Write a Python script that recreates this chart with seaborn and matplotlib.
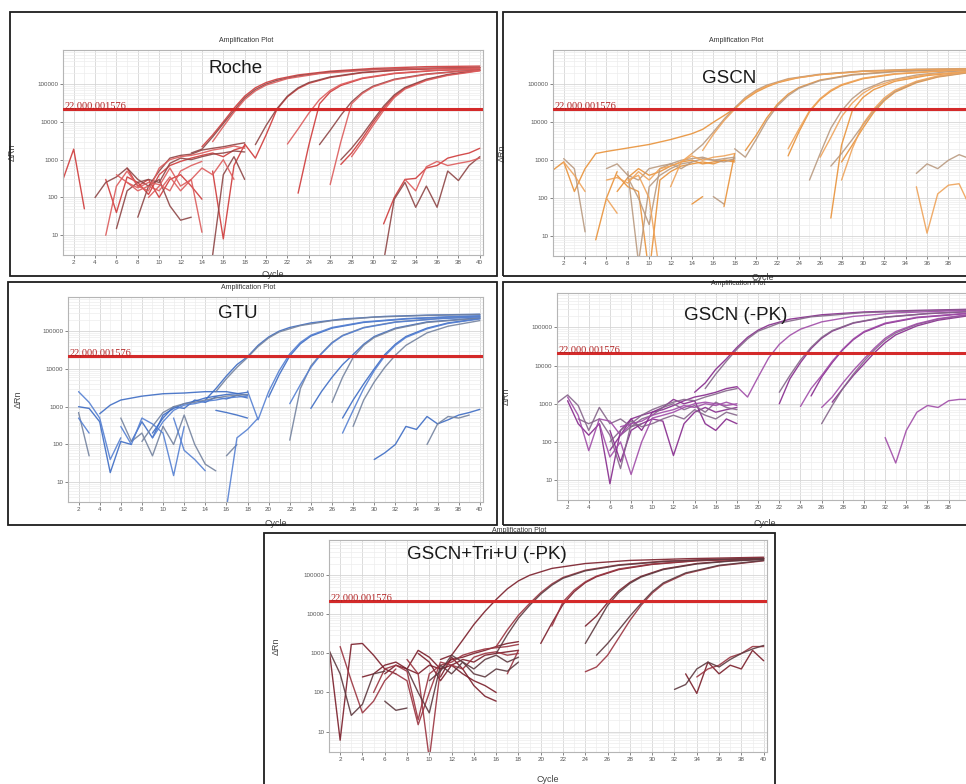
import numpy as np
import pandas as pd
import matplotlib
matplotlib.use("Agg")
import matplotlib.pyplot as plt
from matplotlib.patches import Rectangle
from matplotlib.ticker import FixedLocator, LogLocator, NullFormatter
import seaborn as sns

sns.set_theme(style="white")
plt.rcParams['font.family'] = ['Liberation Sans', 'DejaVu Sans']

# threshold used by the instrument software
threshold = 22000.001576
threshold_label = "22,000.001576"

cycle_ticks = list(range(2, 41, 2))
drn_ticks = [10, 100, 1000, 10000, 100000]
drn_tick_labels = ["10", "100", "1000", "10000", "100000"]

# ---- Roche : (cycle, dRn) per well ----
roche_amp = [
    [(14, 2.2e3), (15, 4.5e3), (16, 1.0e4), (17, 2.3e4), (18, 4.8e4), (19, 8.0e4), (20, 1.1e5), (21, 1.35e5), (23, 1.75e5), (26, 2.2e5), (30, 2.6e5), (35, 2.9e5), (40, 3.0e5)],
    [(13, 1.5e3), (14, 1.9e3), (15, 4.0e3), (16, 9.0e3), (17, 2.0e4), (18, 4.3e4), (19, 7.2e4), (20, 1.0e5), (21, 1.25e5), (23, 1.65e5), (26, 2.1e5), (30, 2.45e5), (35, 2.65e5), (40, 2.75e5)],
    [(15, 3.0e3), (16, 7.5e3), (17, 1.8e4), (18, 3.9e4), (19, 6.6e4), (20, 9.4e4), (22, 1.4e5), (25, 1.9e5), (30, 2.4e5), (35, 2.6e5), (40, 2.7e5)],
    [(18, 2.6e3), (19, 1.1e3), (20, 4.5e3), (21, 2.1e4), (22, 4.6e4), (23, 7.6e4), (24, 1.05e5), (26, 1.5e5), (29, 2.0e5), (33, 2.4e5), (37, 2.6e5), (40, 2.7e5)],
    [(19, 2.5e3), (20, 8.0e3), (21, 2.2e4), (22, 4.8e4), (23, 8.0e4), (24, 1.1e5), (26, 1.55e5), (29, 2.05e5), (33, 2.45e5), (37, 2.65e5), (40, 2.75e5)],
    [(22, 2.6e3), (23, 6.5e3), (24, 1.7e4), (25, 3.9e4), (26, 6.8e4), (27, 9.8e4), (29, 1.45e5), (32, 1.95e5), (36, 2.35e5), (40, 2.55e5)],
    [(23, 1.3e2), (24, 2.4e3), (25, 3.0e4), (26, 6.2e4), (27, 9.2e4), (29, 1.4e5), (32, 1.9e5), (36, 2.3e5), (40, 2.5e5)],
    [(25, 2.5e3), (26, 6.0e3), (27, 1.5e4), (28, 3.4e4), (29, 6.0e4), (30, 8.8e4), (32, 1.35e5), (35, 1.85e5), (38, 2.2e5), (40, 2.35e5)],
    [(26, 2.2e2), (27, 3.0e3), (28, 3.0e4), (29, 5.6e4), (30, 8.4e4), (32, 1.3e5), (35, 1.8e5), (38, 2.15e5), (40, 2.3e5)],
    [(27, 7.5e2), (28, 1.5e3), (29, 3.6e3), (30, 9.5e3), (31, 2.3e4), (32, 4.8e4), (33, 7.8e4), (35, 1.3e5), (37, 1.75e5), (40, 2.3e5)],
    [(27, 1.0e3), (28, 2.0e3), (29, 4.5e3), (30, 1.1e4), (31, 2.6e4), (32, 5.2e4), (33, 8.2e4), (35, 1.35e5), (37, 1.8e5), (40, 2.35e5)],
    [(28, 1.2e3), (29, 3.0e3), (30, 8.0e3), (31, 2.0e4), (32, 4.4e4), (33, 7.4e4), (35, 1.25e5), (37, 1.7e5), (40, 2.25e5)],
]
roche_noise = [
    [(1, 300), (2, 1900), (3, 50)],
    [(4, 100), (5, 250), (6, 350), (7, 600), (8, 300), (9, 200), (10, 500), (11, 1100), (12, 1300), (13, 1400), (14, 1800), (15, 2000), (16, 2200), (17, 2500), (18, 2800)],
    [(5, 10), (6, 200), (7, 500), (8, 200), (9, 150), (10, 600), (11, 1000), (12, 1200), (13, 1300), (14, 1500), (15, 1800), (16, 2000), (17, 2300), (18, 2000)],
    [(5, 300), (6, 40), (7, 350), (8, 250), (9, 120), (10, 400), (11, 700), (12, 900), (13, 1100), (14, 1300), (15, 1500), (16, 1200), (17, 1800), (18, 2200)],
    [(6, 15), (7, 150), (8, 250), (9, 300), (10, 250), (11, 800), (12, 1100), (13, 1000), (14, 1200), (15, 1400), (16, 1500), (17, 1700), (18, 1600)],
    [(6, 400), (7, 250), (8, 150), (9, 200), (10, 150), (11, 350), (12, 150), (13, 300), (14, 12)],
    [(7, 600), (8, 200), (9, 300), (10, 100), (11, 300), (12, 400), (13, 200), (14, 90)],
    [(8, 30), (9, 200), (10, 300), (11, 60), (12, 25), (13, 30)],
    [(7, 250), (8, 180), (9, 250), (10, 220), (11, 150), (12, 500), (13, 700), (14, 900)],
    [(15, 500), (16, 8), (17, 700), (18, 2500)],
    [(15, 3), (16, 400), (17, 1200), (18, 300)],
    [(9, 100), (10, 200), (11, 600), (12, 200), (13, 300), (14, 600), (15, 400), (16, 1000), (17, 300)],
    [(31, 20), (32, 100), (33, 300), (34, 320), (35, 600), (36, 700), (37, 1100), (38, 1300), (39, 1500), (40, 2000)],
    [(31, 2), (32, 90), (33, 250), (34, 55), (35, 200), (36, 55), (37, 500), (38, 280), (39, 700), (40, 1200)],
    [(33, 300), (34, 150), (35, 650), (36, 900), (37, 700), (38, 800), (39, 900), (40, 1100)],
]

# ---- GSCN ----
gscn_amp = [
    [(1, 550), (2, 900), (3, 150), (4, 600), (5, 1500), (6, 1700), (8, 2100), (10, 2600), (12, 3500), (14, 5000), (15, 6500), (16, 10000), (17, 15000), (18, 23000), (19, 40000), (20, 62000), (21, 85000), (22, 110000), (24, 150000), (26, 180000), (30, 220000), (35, 240000), (40, 250000)],
    [(14, 1500), (15, 2600), (16, 5500), (17, 12000), (18, 24000), (19, 45000), (20, 70000), (21, 95000), (23, 140000), (26, 185000), (30, 225000), (35, 250000), (40, 260000)],
    [(15, 1800), (16, 4800), (17, 11000), (18, 22000), (19, 42000), (20, 66000), (21, 90000), (23, 135000), (26, 180000), (30, 220000), (35, 245000), (40, 255000)],
    [(19, 1800), (20, 4500), (21, 13000), (22, 30000), (23, 55000), (24, 82000), (26, 130000), (29, 180000), (33, 220000), (37, 240000), (40, 250000)],
    [(18, 2000), (19, 1200), (20, 3500), (21, 11000), (22, 27000), (23, 50000), (24, 78000), (26, 125000), (29, 175000), (33, 215000), (37, 238000), (40, 248000)],
    [(23, 2000), (24, 6500), (25, 20000), (26, 42000), (27, 70000), (28, 98000), (30, 145000), (33, 190000), (37, 225000), (40, 240000)],
    [(23, 1300), (24, 5500), (25, 19000), (26, 40000), (27, 66000), (28, 94000), (30, 140000), (33, 185000), (37, 220000), (40, 235000)],
    [(25, 300), (26, 1500), (27, 7000), (28, 20000), (29, 42000), (30, 70000), (32, 120000), (35, 175000), (38, 215000), (40, 230000)],
    [(26, 1200), (27, 4000), (28, 14000), (29, 32000), (30, 58000), (31, 85000), (33, 130000), (36, 180000), (40, 220000)],
    [(27, 30), (28, 2500), (29, 20000), (30, 45000), (31, 72000), (33, 120000), (36, 170000), (40, 215000)],
    [(27, 700), (28, 1500), (29, 3500), (30, 8500), (31, 20000), (32, 40000), (33, 65000), (35, 115000), (37, 160000), (40, 210000)],
    [(28, 300), (29, 2000), (30, 9000), (31, 22000), (32, 44000), (33, 70000), (35, 120000), (37, 165000), (40, 215000)],
    [(28, 900), (29, 2500), (30, 7000), (31, 18000), (32, 37000), (33, 62000), (35, 110000), (37, 155000), (40, 205000)],
]
gscn_noise = [
    [(2, 1100), (3, 600), (4, 13)],
    [(2, 900), (3, 400), (4, 150)],
    [(5, 8), (6, 100), (7, 500)],
    [(6, 600), (7, 800), (8, 400), (9, 300), (10, 600), (11, 700), (12, 800), (13, 1000), (14, 1100), (15, 1200), (16, 1000), (17, 1100), (18, 1200)],
    [(6, 300), (7, 350), (8, 250), (9, 500), (10, 300), (11, 600), (12, 700), (13, 900), (14, 1300), (15, 1000), (16, 1200), (17, 1300), (18, 1500)],
    [(7, 400), (8, 200), (9, 150), (10, 1), (11, 300), (12, 500), (13, 700), (14, 800), (15, 900), (16, 800), (17, 1000), (18, 1000)],
    [(8, 500), (9, 2), (10, 200), (11, 400), (12, 600), (13, 800), (14, 900), (15, 1100), (16, 1000), (17, 900), (18, 1100)],
    [(8, 300), (9, 400), (10, 100), (11, 1)],
    [(7, 150), (8, 350), (9, 600), (10, 400), (11, 500), (12, 700), (13, 900), (14, 1000), (15, 800), (16, 900), (17, 1000), (18, 900)],
    [(8, 350), (9, 100), (10, 20), (11, 600), (12, 800), (13, 600), (14, 900)],
    [(12, 200), (13, 900), (14, 1500)],
    [(14, 70), (15, 110)],
    [(16, 110), (17, 70)],
    [(6, 100), (7, 40)],
    [(17, 60), (18, 1500)],
    [(35, 450), (36, 800), (37, 600), (38, 1000), (39, 1400), (40, 1100)],
    [(35, 200), (36, 12), (37, 130), (38, 220), (39, 240), (40, 60)],
]

# ---- GTU ----
gtu_amp = [
    [(14, 1500), (15, 3000), (16, 6500), (17, 13000), (18, 21000), (19, 42000), (20, 70000), (21, 100000), (22, 125000), (24, 165000), (27, 210000), (31, 245000), (35, 265000), (40, 280000)],
    [(15, 2500), (16, 5500), (17, 11000), (18, 20000), (19, 39000), (20, 66000), (21, 95000), (23, 140000), (26, 190000), (30, 235000), (35, 260000), (40, 275000)],
    [(18, 2600), (19, 450), (20, 2500), (21, 9000), (22, 25000), (23, 50000), (24, 78000), (26, 125000), (29, 175000), (33, 215000), (37, 240000), (40, 255000)],
    [(20, 1800), (21, 7000), (22, 22000), (23, 46000), (24, 74000), (26, 120000), (29, 170000), (33, 210000), (37, 235000), (40, 250000)],
    [(22, 130), (23, 3000), (24, 12000), (25, 26000), (26, 50000), (27, 77000), (29, 125000), (32, 175000), (36, 215000), (40, 240000)],
    [(22, 1200), (23, 3800), (24, 11000), (25, 25000), (26, 48000), (27, 75000), (29, 122000), (32, 172000), (36, 212000), (40, 238000)],
    [(24, 900), (25, 2500), (26, 6000), (27, 13000), (28, 24000), (29, 45000), (30, 72000), (32, 120000), (35, 175000), (40, 225000)],
    [(26, 1300), (27, 6000), (28, 20000), (29, 42000), (30, 68000), (32, 115000), (35, 170000), (40, 220000)],
    [(27, 200), (28, 800), (29, 3000), (30, 9000), (31, 22000), (32, 42000), (33, 68000), (35, 115000), (37, 160000), (40, 210000)],
    [(27, 500), (28, 1500), (29, 4000), (30, 10000), (31, 24000), (32, 45000), (33, 72000), (35, 120000), (37, 165000), (40, 215000)],
    [(28, 300), (29, 1500), (30, 4500), (31, 11000), (32, 23000), (33, 42000), (35, 90000), (37, 135000), (40, 190000)],
]
gtu_noise = [
    [(2, 2500), (3, 1300), (4, 500), (5, 40), (6, 150)],
    [(2, 1000), (3, 900), (4, 400), (5, 18), (6, 120), (7, 100)],
    [(2, 700), (3, 50)],
    [(2, 500), (3, 200)],
    [(4, 650), (5, 1100), (6, 1500), (8, 1900), (10, 2200), (12, 2300), (14, 2500), (16, 2500), (18, 2000)],
    [(6, 500), (7, 120), (8, 200), (9, 50), (10, 300)],
    [(6, 300), (7, 100), (8, 500), (9, 350), (10, 200), (11, 15), (12, 300)],
    [(7, 120), (8, 400), (9, 150), (10, 600), (11, 900), (12, 1200), (13, 1400), (14, 1700), (15, 1900), (16, 2100), (17, 2200), (18, 2400)],
    [(8, 120), (9, 300), (10, 700), (11, 1000), (12, 1200), (13, 1300), (14, 1500), (15, 1700), (16, 1900), (17, 2000), (18, 2100)],
    [(9, 150), (10, 400), (11, 800), (12, 1100), (13, 1200), (14, 1400), (15, 1500), (16, 1700), (17, 1800), (18, 1900)],
    [(9, 200), (10, 500), (11, 1000), (12, 900), (13, 1500), (14, 1300), (15, 1800), (16, 1600), (17, 2000), (18, 1700)],
    [(10, 300), (11, 100), (12, 600), (13, 100), (14, 30), (15, 20)],
    [(11, 500), (12, 70), (13, 40), (14, 20)],
    [(15, 800), (16, 700), (17, 600), (18, 500)],
    [(16, 50), (17, 100)],
    [(16, 2), (17, 150), (18, 250), (19, 500)],
    [(30, 40), (31, 60), (32, 100), (33, 300), (34, 250), (35, 550), (36, 350), (37, 450), (38, 600), (39, 700), (40, 850)],
    [(35, 100), (36, 350), (37, 550), (38, 500), (39, 600)],
]

# ---- GSCN (-PK) ----
pk_amp = [
    [(14, 2000), (15, 3500), (16, 8000), (17, 15000), (18, 30000), (19, 55000), (20, 85000), (21, 115000), (23, 165000), (26, 215000), (30, 255000), (35, 280000), (40, 300000)],
    [(15, 2500), (16, 6000), (17, 13000), (18, 27000), (19, 50000), (20, 80000), (22, 130000), (25, 190000), (30, 245000), (35, 270000), (40, 290000)],
    [(18, 2800), (19, 1500), (20, 5000), (21, 16000), (22, 36000), (23, 62000), (24, 90000), (26, 140000), (29, 195000), (33, 240000), (37, 265000), (40, 280000)],
    [(22, 1000), (23, 4500), (24, 12000), (25, 28000), (26, 52000), (27, 80000), (29, 130000), (32, 185000), (36, 230000), (40, 260000)],
    [(22, 2000), (23, 5500), (24, 14000), (25, 30000), (26, 55000), (27, 83000), (29, 133000), (32, 188000), (36, 232000), (40, 262000)],
    [(24, 850), (25, 2500), (26, 5500), (27, 13000), (28, 27000), (29, 50000), (30, 78000), (32, 130000), (35, 185000), (40, 240000)],
    [(25, 1600), (26, 5000), (27, 12000), (28, 26000), (29, 48000), (30, 75000), (32, 125000), (35, 180000), (40, 235000)],
    [(26, 300), (27, 900), (28, 2500), (29, 6000), (30, 13000), (31, 26000), (32, 47000), (33, 72000), (35, 120000), (37, 165000), (40, 215000)],
    [(26, 800), (27, 1500), (28, 3500), (29, 7500), (30, 15000), (31, 29000), (32, 52000), (33, 78000), (35, 125000), (37, 170000), (40, 220000)],
    [(27, 1100), (28, 2500), (29, 5500), (30, 11000), (31, 22000), (32, 40000), (33, 64000), (35, 110000), (37, 155000), (40, 205000)],
]
pk_noise = [
    [(1, 1050), (2, 1700), (3, 900), (4, 200), (5, 800), (6, 300), (7, 400), (8, 250), (9, 300)],
    [(2, 1500), (3, 500), (4, 59), (5, 400), (6, 350), (7, 150), (8, 300)],
    [(2, 1200), (3, 300), (4, 150), (5, 300), (6, 8), (7, 200), (8, 400), (9, 500), (10, 600), (11, 700), (12, 900), (13, 1200), (14, 1500), (15, 1700), (16, 2000), (17, 2500), (18, 2800)],
    [(3, 400), (4, 300), (5, 400), (6, 150), (7, 20), (8, 300), (9, 500), (10, 700), (11, 900), (12, 1100), (13, 1300), (14, 1200), (15, 1500), (16, 1800), (17, 2200), (18, 2500)],
    [(5, 300), (6, 40), (7, 100), (8, 14), (9, 100), (10, 420), (11, 500), (12, 600), (13, 800), (14, 1000), (15, 1100), (16, 1000), (17, 900), (18, 1000)],
    [(6, 200), (7, 30), (8, 200), (9, 300), (10, 400), (11, 350), (12, 44), (13, 300), (14, 600), (15, 800), (16, 600), (17, 700), (18, 800)],
    [(6, 100), (7, 200), (8, 350), (9, 250), (10, 300), (11, 400), (12, 500), (13, 400), (14, 700), (15, 500), (16, 400), (17, 600), (18, 500)],
    [(7, 250), (8, 300), (9, 350), (10, 500), (11, 600), (12, 700), (13, 900), (14, 800), (15, 1000), (16, 900), (17, 1100), (18, 900)],
    [(6, 60), (7, 150), (8, 400), (9, 200), (10, 600), (11, 800), (12, 1300), (13, 1000), (14, 1200), (15, 300), (16, 200), (17, 400), (18, 300)],
    [(7, 150), (8, 250), (9, 400), (10, 500), (11, 800), (12, 1000), (13, 700), (14, 900), (15, 600), (16, 1100), (17, 800), (18, 700)],
    [(32, 130), (33, 28), (34, 200), (35, 600), (36, 900), (37, 800), (38, 1200), (39, 1300), (40, 1300)],
]

# ---- GSCN+Tri+U (-PK) ----
tri_amp = [
    [(11, 700), (12, 900), (13, 2200), (14, 5500), (15, 12000), (16, 24000), (17, 45000), (18, 72000), (19, 100000), (21, 150000), (24, 200000), (28, 240000), (33, 265000), (40, 290000)],
    [(16, 1500), (17, 4000), (18, 9500), (19, 19000), (20, 36000), (21, 60000), (22, 88000), (24, 135000), (27, 185000), (31, 230000), (36, 260000), (40, 275000)],
    [(16, 1000), (17, 3000), (18, 8000), (19, 17000), (20, 33000), (21, 56000), (22, 84000), (24, 130000), (27, 180000), (31, 225000), (36, 255000), (40, 270000)],
    [(20, 1800), (21, 6000), (22, 18000), (23, 38000), (24, 65000), (25, 92000), (27, 140000), (30, 190000), (34, 235000), (40, 265000)],
    [(21, 5000), (22, 21000), (23, 42000), (24, 68000), (25, 95000), (27, 145000), (30, 195000), (34, 238000), (40, 268000)],
    [(24, 1800), (25, 5500), (26, 17000), (27, 36000), (28, 62000), (29, 90000), (31, 140000), (34, 195000), (37, 230000), (40, 255000)],
    [(24, 5000), (25, 9000), (26, 20000), (27, 40000), (28, 66000), (29, 94000), (31, 145000), (34, 200000), (37, 235000), (40, 258000)],
    [(24, 340), (25, 450), (26, 900), (27, 2500), (28, 7000), (29, 17000), (30, 35000), (31, 60000), (33, 110000), (36, 175000), (40, 235000)],
    [(25, 900), (26, 1800), (27, 4000), (28, 9000), (29, 19000), (30, 38000), (31, 64000), (33, 115000), (36, 180000), (40, 240000)],
]
tri_noise = [
    [(1, 1400), (2, 6), (3, 1700), (4, 1800), (5, 900), (6, 400), (7, 300)],
    [(2, 1500), (3, 200), (4, 30), (5, 60), (6, 200), (7, 400)],
    [(1, 1200), (2, 300), (3, 26), (4, 50), (5, 300), (6, 350)],
    [(4, 250), (5, 300), (6, 500), (7, 600), (8, 400), (9, 300), (10, 500), (11, 400), (12, 700), (13, 800), (14, 1000), (15, 1200), (16, 1500), (17, 1800), (18, 2000)],
    [(5, 100), (6, 400), (7, 500), (8, 350), (9, 20), (10, 300), (11, 500), (12, 600), (13, 900), (14, 1100), (15, 1300), (16, 1400), (17, 1500), (18, 1700)],
    [(6, 60), (7, 35), (8, 40)],
    [(6, 300), (7, 500), (8, 400), (9, 1200), (10, 800), (11, 400), (12, 500), (13, 700), (14, 600), (15, 900), (16, 1000), (17, 1100), (18, 1200)],
    [(7, 300), (8, 200), (9, 15), (10, 100), (11, 600), (12, 500), (13, 400), (14, 800), (15, 1000), (16, 1100), (17, 900), (18, 1000)],
    [(8, 400), (9, 100), (10, 30), (11, 500), (12, 300), (13, 600), (14, 400), (15, 700), (16, 900), (17, 600), (18, 800)],
    [(9, 1000), (10, 600), (11, 200), (12, 500), (13, 300), (14, 200), (15, 150), (16, 100)],
    [(8, 700), (9, 300), (10, 2), (11, 400)],
    [(10, 200), (11, 350), (12, 900), (13, 600), (14, 300), (15, 250), (16, 400), (17, 350), (18, 600)],
    [(11, 250), (12, 800), (13, 400), (14, 150), (15, 80), (16, 60)],
    [(17, 300), (18, 1200)],
    [(32, 120), (33, 160), (34, 400), (35, 600), (36, 450), (37, 700), (38, 1000), (39, 1300), (40, 1600)],
    [(33, 300), (34, 95), (35, 600), (36, 300), (37, 500), (38, 400), (39, 1200), (40, 650)],
    [(34, 250), (35, 400), (36, 500), (37, 800), (38, 1000), (39, 1500), (40, 1500)],
]

W, H = 966, 784
fig = plt.figure(figsize=(W / 100, H / 100), dpi=100)
fig.patch.set_facecolor("white")


def px_axes(l, t, r, b):
    return fig.add_axes([l / W, 1 - b / H, (r - l) / W, (b - t) / H])


def px_frame(l, t, r, b):
    fig.add_artist(Rectangle((l / W, 1 - b / H), (r - l) / W, (b - t) / H,
                             transform=fig.transFigure, fill=False,
                             ec="#1e1e1e", lw=1.3))


def draw_panel(ax, name, curves, colors, name_xy, xlabel_y):
    rows = []
    for i, curve in enumerate(curves):
        for cyc, val in curve:
            rows.append({"curve": i, "shade": "abc"[i % 3], "cycle": cyc, "dRn": val})
    df = pd.DataFrame(rows)
    sns.lineplot(data=df, x="cycle", y="dRn", hue="shade", units="curve",
                 estimator=None, palette=dict(zip("abc", colors)),
                 linewidth=1.0, alpha=0.9, legend=False, ax=ax)
    ax.set_yscale("log")
    ax.set_xlim(1, 40.3)
    ax.set_ylim(3, 8e5)

    ax.axhline(threshold, color="#d42a2a", lw=2.2, zorder=4)
    ax.text(0.003, threshold * 1.04, threshold_label, transform=ax.get_yaxis_transform(),
            color="#b22222", fontsize=7.5, family="Liberation Serif", va="baseline", zorder=5)

    ax.set_xticks(cycle_ticks)
    ax.set_xticklabels([str(c) for c in cycle_ticks])
    ax.set_yticks(drn_ticks)
    ax.set_yticklabels(drn_tick_labels)
    ax.xaxis.set_minor_locator(FixedLocator(range(1, 41)))
    ax.yaxis.set_minor_locator(LogLocator(base=10, subs=range(2, 10)))
    ax.yaxis.set_minor_formatter(NullFormatter())
    ax.grid(which="major", color="#d6d6d6", lw=0.6)
    ax.grid(which="minor", color="#ededed", lw=0.5)
    ax.set_axisbelow(True)
    ax.tick_params(which="major", labelsize=4.5, length=2, width=0.5, pad=1.5,
                   colors="#555555", bottom=True, left=True)
    ax.tick_params(which="minor", length=0)
    for s in ax.spines.values():
        s.set_color("#b5b5b5")
        s.set_linewidth(0.8)

    ax.set_xlabel("Cycle", fontsize=6.5, color="#444444")
    ax.set_ylabel("ΔRn", fontsize=6.5, color="#444444")
    ax.xaxis.set_label_coords(0.5, xlabel_y)
    ax.yaxis.set_label_coords(-0.11, 0.5)
    ax.text(0.435, 1.045, "Amplification Plot", transform=ax.transAxes,
            fontsize=5, color="#333333", ha="center", va="center")
    ax.text(name_xy[0], name_xy[1], name, transform=ax.transAxes,
            fontsize=13.5, color="#1a1a1a", ha="center", va="center", zorder=6)


panels = [
    ("Roche", roche_amp + roche_noise, ["#cf3a3a", "#8e4646", "#dc5c5c"],
     (63, 50, 483, 255), (0.41, 0.91), -0.075, (10, 12, 497, 276)),
    ("GSCN", gscn_amp + gscn_noise, ["#e8923a", "#b99a80", "#ee a35a".replace(" ", "")],
     (553, 50, 973, 256), (0.42, 0.86), -0.083, (503, 12, 985, 276)),
    ("GTU", gtu_amp + gtu_noise, ["#3d6cc4", "#74839f", "#5580d2"],
     (68, 297, 483, 502), (0.41, 0.92), -0.083, (8, 282, 497, 525)),
    ("GSCN (-PK)", pk_amp + pk_noise, ["#862a8d", "#85668a", "#a04ca8"],
     (557, 293, 973, 500), (0.43, 0.89), -0.092, (503, 282, 985, 525)),
    ("GSCN+Tri+U (-PK)", tri_amp + tri_noise, ["#7a1e2a", "#9a3440", "#5e3a40"],
     (329, 540, 767, 752), (0.36, 0.93), -0.108, (264, 533, 775, 795)),
]

for name, curves, colors, box, name_xy, xlab_y, frame in panels:
    ax = px_axes(*box)
    draw_panel(ax, name, curves, colors, name_xy, xlab_y)
    px_frame(*frame)

fig.savefig("out.png", dpi=100, facecolor="white")
